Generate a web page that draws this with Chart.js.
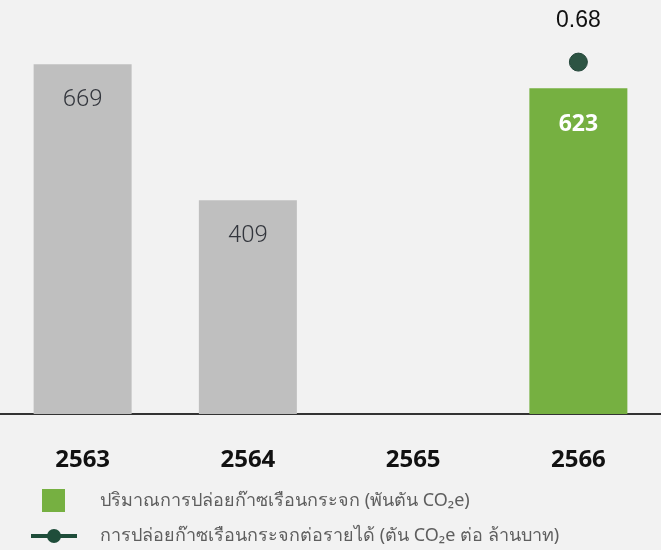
<!DOCTYPE html>
<html>
<head>
<meta charset="utf-8">
<script src="https://cdn.jsdelivr.net/npm/chart.js@4.4.1/dist/chart.umd.min.js"></script>
<style>
  html, body { margin: 0; padding: 0; background: #f2f2f2; }
  canvas { display: block; }
</style>
</head>
<body>
<canvas id="c" width="661" height="550"></canvas>
<script>
// ---- data ----
const years = ['2563', '2564', '2565', '2566'];
const emissions = [669, 409, null, 623];          // พันตัน CO2e
const intensity = [null, null, null, 0.68];        // ตัน CO2e ต่อ ล้านบาท
const barColors = ['#bfbfbf', '#bfbfbf', '#bfbfbf', '#76b041'];
const legendLabels = [
  'ปริมาณการปล่อยก๊าซเรือนกระจก (พันตัน CO₂e)',
  'การปล่อยก๊าซเรือนกระจกต่อรายได้ (ตัน CO₂e ต่อ ล้านบาท)'
];

// ---- legend symbols ----
function makeSquare() {
  const c = document.createElement('canvas');
  c.width = 24; c.height = 24;
  const g = c.getContext('2d');
  g.fillStyle = '#76b041';
  g.fillRect(0, 0, 23, 23);
  return c;
}
function makeLineDot() {
  const c = document.createElement('canvas');
  c.width = 46; c.height = 16;
  const g = c.getContext('2d');
  g.fillStyle = '#1f4d3a';
  g.fillRect(0, 6, 46, 4);
  g.beginPath();
  g.arc(23, 8, 7, 0, Math.PI * 2);
  g.fill();
  return c;
}
const sqImg = makeSquare();
const lineImg = makeLineDot();

// ---- value labels plugin ----
const valueLabels = {
  id: 'valueLabels',
  afterDatasetsDraw(chart) {
    const ctx = chart.ctx;
    ctx.save();
    ctx.textAlign = 'center';
    ctx.textBaseline = 'middle';
    const barMeta = chart.getDatasetMeta(0);
    barMeta.data.forEach((el, i) => {
      const v = emissions[i];
      if (v == null) return;
      const green = i === 3;
      ctx.font = green ? 'bold 23px "Open Sans"' : '300 24px Roboto, "Liberation Sans"';
      ctx.fillStyle = green ? '#ffffff' : '#33363d';
      ctx.fillText(String(v), el.x, el.y + 36);
    });
    const lineMeta = chart.getDatasetMeta(1);
    lineMeta.data.forEach((el, i) => {
      const v = intensity[i];
      if (v == null) return;
      ctx.font = '23px "Liberation Sans"';
      ctx.fillStyle = '#111111';
      ctx.fillText(v.toFixed(2), el.x, el.y - 41);
    });
    ctx.restore();
  }
};

new Chart(document.getElementById('c'), {
  data: {
    labels: years,
    datasets: [
      {
        type: 'bar',
        data: emissions,
        backgroundColor: barColors,
        categoryPercentage: 1,
        barPercentage: 0.593,
        yAxisID: 'y',
        order: 2
      },
      {
        type: 'line',
        data: intensity,
        yAxisID: 'y1',
        borderColor: '#1f4d3a',
        borderWidth: 4,
        pointRadius: 9,
        pointBackgroundColor: '#2d5443',
        pointBorderColor: '#24463a',
        pointBorderWidth: 1,
        showLine: false,
        order: 1
      }
    ]
  },
  options: {
    responsive: false,
    animation: false,
    layout: { autoPadding: false, padding: { left: 0, right: 0, top: 0, bottom: -5 } },
    scales: {
      x: {
        grid: { display: false, drawTicks: false },
        border: { display: true, color: '#333333', width: 2 },
        ticks: {
          padding: 32,
          color: '#111111',
          font: { family: '"Open Sans"', size: 24, weight: 'bold' }
        },
        afterFit: (scale) => { scale.height = 61; }
      },
      y: { display: false, min: 0, max: 792 },
      y1: { display: false, min: 0, max: 0.8, position: 'right' }
    },
    plugins: {
      tooltip: { enabled: false },
      legend: {
        position: 'bottom',
        align: 'start',
        labels: {
          usePointStyle: true,
          pointStyleWidth: 74,
          padding: 17,
          color: '#5e5e5e',
          font: { size: 18, family: '"Noto Sans", sans-serif' },
          generateLabels: () => [
            { text: legendLabels[0], pointStyle: sqImg, fillStyle: '#76b041', strokeStyle: 'transparent', lineWidth: 0, hidden: false, datasetIndex: 0, fontColor: '#5e5e5e' },
            { text: legendLabels[1], pointStyle: lineImg, fillStyle: '#1f4d3a', strokeStyle: 'transparent', lineWidth: 0, hidden: false, datasetIndex: 1, fontColor: '#5e5e5e' }
          ]
        }
      }
    }
  },
  plugins: [valueLabels]
});
</script>
</body>
</html>
